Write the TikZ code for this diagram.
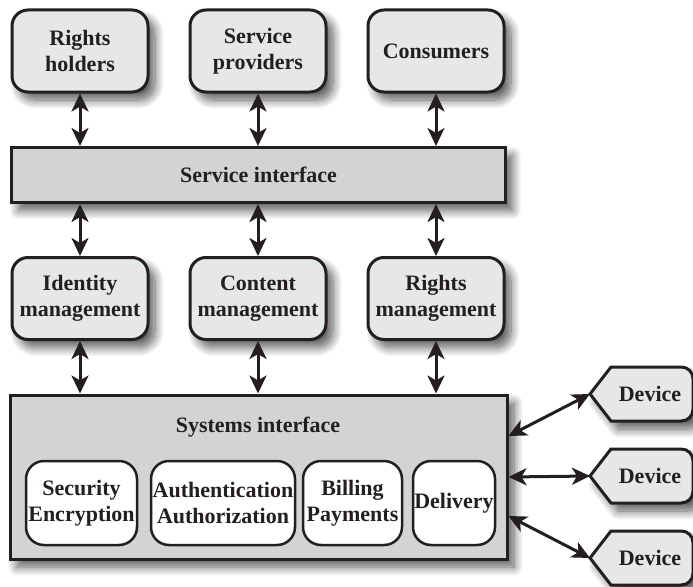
\documentclass[tikz,border=0pt]{standalone}
\usepackage{fontspec}
\setmainfont{Liberation Serif}
\usetikzlibrary{arrows.meta,shadows.blur,calc}
\definecolor{txt}{HTML}{231F20}
\definecolor{boxlight}{HTML}{E6E7E8}
\definecolor{boxgray}{HTML}{D1D3D4}
\tikzset{
  shad/.style={blur shadow={shadow xshift=7pt,shadow yshift=-8pt,shadow blur radius=9pt,shadow blur steps=14,shadow opacity=65}},
  lbl/.style={font=\fontsize{22}{26}\selectfont\bfseries,text=txt,align=center,inner sep=0pt},
  entity/.style={lbl,draw=txt,line width=3pt,fill=boxlight,rounded corners=16pt,minimum width=136pt,minimum height=82pt,shad},
  bar/.style={lbl,draw=txt,line width=3pt,fill=boxgray,shad},
  inner/.style={lbl,draw=txt,line width=2.5pt,fill=white,rounded corners=18pt,minimum height=84pt},
  devshape/.style={draw=txt,line width=3pt,fill=boxlight,shad},
  biarrow/.style={draw=txt,line width=3pt,{Stealth[length=18pt,width=17pt,inset=5pt]}-{Stealth[length=18pt,width=17pt,inset=5pt]}},
}
\begin{document}
\begin{tikzpicture}[x=1pt,y=-1pt]
\useasboundingbox (0,0) rectangle (693,586);
% top row
\node[entity] (rh) at (80,51) {Rights\\holders};
\node[entity] (sp) at (258,51) {Service\\providers};
\node[entity] (co) at (436,51) {Consumers};
% service interface
\node[bar,minimum width=494pt,minimum height=55pt] (si) at (258.5,175) {Service interface};
% middle row
\node[entity] (im) at (80,298.5) {Identity\\management};
\node[entity] (cm) at (258,298.5) {Content\\management};
\node[entity] (rm) at (436,298.5) {Rights\\management};
% systems interface
\node[bar,minimum width=497pt,minimum height=164pt] (sys) at (258.5,477) {};
\node[lbl] (systitle) at (258,427) {Systems interface};
\node[inner,minimum width=111pt] (sec) at (81.5,503) {Security\\Encryption};
\node[inner,minimum width=144pt] (auth) at (223,503) {Authentication\\Authorization};
\node[inner,minimum width=99pt] (bill) at (352.5,503) {Billing\\Payments};
\node[inner,minimum width=82pt] (deliv) at (454,503) {Delivery};
% devices
\foreach \i/\y in {1/394,2/476,3/558}{
  \path[devshape] (590,\y) -- (611,\y-27) -- (681,\y-27) .. controls (688,\y-27) and (693,\y-22) .. (693,\y-15)
     -- (693,\y+15) .. controls (693,\y+22) and (688,\y+27) .. (681,\y+27) -- (611,\y+27) -- cycle;
  \coordinate (tip\i) at (590,\y);
  \node[lbl] (dev\i) at (650,\y) {Device};
}
% vertical connectors
\foreach \n in {rh,sp,co}{
  \draw[biarrow] (\n.south) -- (\n.south |- si.north);
}
\foreach \n in {im,cm,rm}{
  \draw[biarrow] (\n.north |- si.south) -- (\n.north);
  \draw[biarrow] (\n.south) -- (\n.south |- sys.north);
}
% device connectors
\draw[biarrow] ([yshift=41pt]sys.east) -- (tip1);
\draw[biarrow] (sys.east) -- (tip2);
\draw[biarrow] ([yshift=-39pt]sys.east) -- (tip3);
\end{tikzpicture}
\end{document}
